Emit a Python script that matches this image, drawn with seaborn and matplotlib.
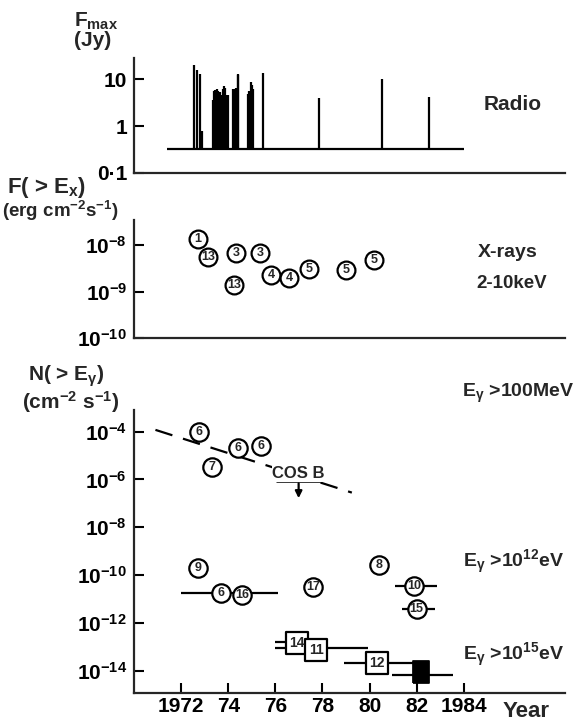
import matplotlib
matplotlib.use('Agg')
import matplotlib.pyplot as plt
import seaborn as sns
import pandas as pd

# ---- data ----
# radio flares: year and peak flux (Jy)
radio_year = [1972.54, 1972.67, 1972.81, 1972.90,
              1973.34, 1973.40, 1973.46, 1973.52, 1973.58, 1973.64,
              1973.70, 1973.76, 1973.82, 1973.88, 1973.94, 1974.00,
              1974.22, 1974.28, 1974.34, 1974.40, 1974.43,
              1974.83, 1974.89, 1974.95, 1975.01, 1975.07,
              1975.46, 1977.85, 1980.51, 1982.53]
radio_flux = [20.0, 15.5, 12.8, 0.8,
              3.5, 5.5, 5.9, 6.2, 5.6, 5.3,
              4.5, 6.0, 7.1, 6.5, 4.6, 4.5,
              6.0, 6.2, 6.5, 12.0, 12.8,
              4.9, 5.5, 8.7, 7.5, 6.0,
              13.4, 4.0, 10.0, 4.1]
radio_base = 0.32
radio_span = [1971.4, 1984.0]

# x-rays 2-10 keV (erg cm-2 s-1), circled reference numbers
xray_year = [1972.70, 1973.14, 1974.34, 1975.35, 1974.26, 1975.82, 1976.60, 1977.45, 1979.01, 1980.18]
xray_log = [-7.86, -8.25, -8.18, -8.18, -8.86, -8.64, -8.71, -8.52, -8.54, -8.32]
xray_ref = ['1', '13', '3', '3', '13', '4', '4', '5', '5', '5']

# gamma rays (cm-2 s-1), circled references
gam_year = [1972.78, 1974.42, 1975.40, 1973.32, 1972.70, 1973.71, 1974.60, 1977.61, 1980.42, 1981.90, 1982.00]
gam_log = [-4.00, -4.69, -4.60, -5.46, -9.71, -10.73, -10.82, -10.48, -9.57, -10.45, -11.42]
gam_ref = ['6', '6', '6', '7', '9', '6', '16', '17', '8', '10', '15']

# boxed references (E > 1e15 eV)
box_year = [1976.92, 1977.73, 1980.31]
box_log = [-12.83, -13.12, -13.66]
box_ref = ['14', '11', '12']
black_year = [1982.2]
black_log = [-14.03]

# time coverage bars: log level, start, end
bar_log = [-10.73, -10.45, -11.42, -12.80, -13.06, -13.66, -14.15]
bar_start = [1972.0, 1981.1, 1981.4, 1976.0, 1976.0, 1978.91, 1980.96]
bar_end = [1976.13, 1982.85, 1982.77, 1976.9, 1979.93, 1982.0, 1983.53]

# COS B upper limit and the dashed trend
cosb_log = -6.05
cosb_span = [1976.03, 1977.95]
cosb_arrow_to = -6.9
trend_year = [1970.91, 1979.25]
trend_log = [-3.93, -6.55]

year_ticks = [1972, 1974, 1976, 1978, 1980, 1982, 1984]
year_labels = ['1972', '74', '76', '78', '80', '82', '1984']

# ---- style ----
sns.set_style('ticks')
FONT = 'Liberation Sans'
plt.rcParams['font.family'] = [FONT, 'DejaVu Sans']
plt.rcParams['font.weight'] = 'bold'
plt.rcParams['mathtext.fontset'] = 'custom'
plt.rcParams['mathtext.rm'] = FONT + ':bold'
plt.rcParams['mathtext.it'] = FONT + ':bold'
plt.rcParams['mathtext.bf'] = FONT + ':bold'
plt.rcParams['axes.linewidth'] = 1.6

W, H = 575, 723
fig = plt.figure(figsize=(W / 100, H / 100), dpi=100)


def px_axes(x0, y0, x1, y1):
    return fig.add_axes([x0 / W, 1 - y1 / H, (x1 - x0) / W, (y1 - y0) / H])


XL = (1970.0, 1988.3)
FS = 15


def style(ax):
    sns.despine(ax=ax, top=True, right=True)
    ax.set_xlim(*XL)
    ax.set_yscale('log')
    ax.minorticks_off()
    ax.tick_params(direction='in', length=7, width=1.5, labelsize=FS, pad=5, colors='black')
    ax.set_facecolor('none')


def circles(ax, xs, ys, refs, size=150, fs=9):
    df = pd.DataFrame({'x': xs, 'y': ys})
    sns.scatterplot(data=df, x='x', y='y', ax=ax, s=size, marker='o', facecolor='white',
                    edgecolor='black', linewidth=1.6, zorder=4, legend=False)
    for x, y, r in zip(xs, ys, refs):
        ax.text(x, y, r, ha='center', va='center', fontsize=fs, fontweight='bold', zorder=5)
    ax.set_xlabel('')
    ax.set_ylabel('')


# ---- radio panel ----
ax1 = px_axes(134, 58, 565, 173)
style(ax1)
ax1.vlines(radio_year, radio_base, radio_flux, color='black', lw=1.6)
ax1.hlines(radio_base, radio_span[0], radio_span[1], color='black', lw=1.6)
ax1.set_ylim(0.1, 28)
ax1.set_yticks([0.1, 1, 10])
ax1.set_yticklabels(['0·1', '1', '10'])
ax1.set_xticks([])

# ---- x-ray panel ----
ax2 = px_axes(134, 220, 565, 338)
style(ax2)
circles(ax2, xray_year, [10 ** v for v in xray_log], xray_ref, size=165)
ax2.set_ylim(1e-10, 10 ** -7.46)
ax2.set_yticks([1e-10, 1e-9, 1e-8])
ax2.set_yticklabels(['10$^{-10}$', '10$^{-9}$', '10$^{-8}$'])
ax2.set_xticks([])

# ---- gamma panel ----
ax3 = px_axes(134, 410, 565, 693)
style(ax3)
ax3.hlines([10 ** v for v in bar_log], bar_start, bar_end, color='black', lw=1.6, zorder=2)
trend = pd.DataFrame({'x': trend_year, 'y': [10 ** v for v in trend_log]})
sns.lineplot(data=trend, x='x', y='y', ax=ax3, color='black', lw=1.6, zorder=1)
ax3.lines[-1].set_dashes([8, 5])
ax3.hlines(10 ** cosb_log, cosb_span[0], cosb_span[1], color='black', lw=1.8, zorder=3)
cx = (cosb_span[0] + cosb_span[1]) / 2
ax3.annotate('', xy=(cx, 10 ** cosb_arrow_to), xytext=(cx, 10 ** cosb_log),
             arrowprops=dict(arrowstyle='-|>', color='black', lw=1.6, mutation_scale=10))
ax3.text(cx, 10 ** (cosb_log + 0.1), 'COS B', ha='center', va='baseline', fontsize=12,
         bbox=dict(facecolor='white', edgecolor='none', pad=0.3), zorder=3)
circles(ax3, gam_year, [10 ** v for v in gam_log], gam_ref, size=175)
box = pd.DataFrame({'x': box_year, 'y': [10 ** v for v in box_log]})
sns.scatterplot(data=box, x='x', y='y', ax=ax3, s=250, marker='s', facecolor='white',
                edgecolor='black', linewidth=1.6, zorder=4, legend=False)
for x, y, r in zip(box_year, box_log, box_ref):
    ax3.text(x, 10 ** y, r, ha='center', va='center', fontsize=10, fontweight='bold', zorder=5)
tall = [(-0.75, -1), (0.75, -1), (0.75, 1), (-0.75, 1), (-0.75, -1)]
blk = pd.DataFrame({'x': black_year, 'y': [10 ** v for v in black_log]})
sns.scatterplot(data=blk, x='x', y='y', ax=ax3, s=250, marker=tall, color='black',
                edgecolor='black', zorder=4, legend=False)
ax3.set_xlabel('')
ax3.set_ylabel('')
ax3.set_ylim(10 ** -14.92, 10 ** -3.1)
yt = [-14, -12, -10, -8, -6, -4]
ax3.set_yticks([10.0 ** v for v in yt])
ax3.set_yticklabels(['10$^{%d}$' % v for v in yt])
ax3.set_xticks(year_ticks)
ax3.set_xticklabels(year_labels)
ax3.tick_params(axis='x', pad=3)

# ---- annotations (baseline positions in pixels) ----
def ftxt(x, y, s, **kw):
    kw.setdefault('fontsize', FS)
    fig.text(x / W, 1 - y / H, s, va='baseline', ha='left', **kw)


ftxt(74, 27, 'F$_{max}$')
ftxt(74, 46, '(Jy)')
ftxt(484, 110, 'Radio')
ftxt(7, 193, r'F( > E$_x$)', fontsize=16)
ftxt(2, 217, '(erg cm$^{-2}$s$^{-1}$)', fontsize=13.5)
ftxt(478, 257, 'X-rays', fontsize=14)
ftxt(476, 288, '2-10keV', fontsize=13.5)
ftxt(28, 381, r'N( > E$_{\gamma}$)')
ftxt(22, 409, '(cm$^{-2}$ s$^{-1}$)')
ftxt(462, 397, r'E$_{\gamma}$ >100MeV', fontsize=14)
ftxt(463, 567, r'E$_{\gamma}$ >10$^{12}$eV', fontsize=14)
ftxt(463, 660, r'E$_{\gamma}$ >10$^{15}$eV', fontsize=14)
ftxt(503, 717, 'Year', fontsize=16)

fig.savefig('out.png', dpi=100)
